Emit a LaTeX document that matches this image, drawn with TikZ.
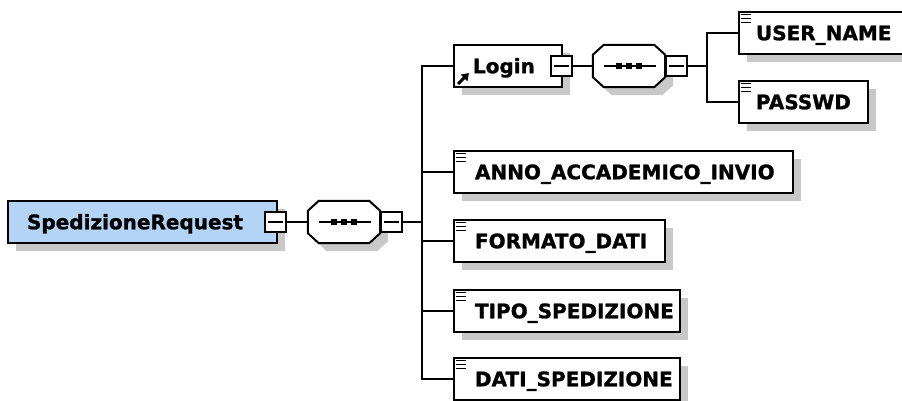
\documentclass[tikz,border=0pt]{standalone}
\usepackage{fontspec}
\setmainfont{DejaVu Sans}[BoldFeatures={FakeBold=1.2}]
\usetikzlibrary{calc,shadows,arrows.meta}
\definecolor{shc}{RGB}{200,200,200}
\definecolor{rootblue}{RGB}{180,212,245}
\newcommand\octpath[3]{($(#1.north west)+(11+#2,#3)$) -- ($(#1.north east)+(-11+#2,#3)$) -- ($(#1.north east)+(#2,10+#3)$) -- ($(#1.south east)+(#2,-10+#3)$) -- ($(#1.south east)+(-11+#2,#3)$) -- ($(#1.south west)+(11+#2,#3)$) -- ($(#1.south west)+(#2,-10+#3)$) -- ($(#1.north west)+(#2,10+#3)$) -- cycle}
\newcommand\elicon[1]{\foreach \d in {3.5,7.5,11.5} {\draw[line width=1.3pt] ($(#1.north west)+(3,\d)$) -- ++(10,0);}}
\newcommand\seqsym[1]{%
  \fill[shc] \octpath{#1}{8}{8};
  \filldraw[fill=white, draw=black, line width=2pt] \octpath{#1}{0}{0};
  \draw[line width=2pt] ($(#1.west)+(11,0)$) -- ($(#1.east)+(-9,0)$);
  \foreach \dx in {-10,0,10} {\fill ($(#1.center)+(\dx-3,-3)$) rectangle ++(6,6);}}
\newcommand\minusbox[3]{%
  \node[minus] (#1) at (#2,#3) {};
  \draw[line width=2pt] ($(#1.west)+(4,0)$) -- ($(#1.east)+(-4,0)$);}
\begin{document}
\begin{tikzpicture}[x=1pt,y=-1pt,
  box/.style={draw=black, line width=2pt, fill=white, minimum height=42pt, inner sep=0pt, anchor=west,
    font=\fontsize{20}{24}\selectfont\bfseries, text height=14.5pt, text depth=0pt,
    drop shadow={shadow xshift=8pt, shadow yshift=-8pt, opacity=1, fill=shc}},
  minus/.style={draw=black, line width=2pt, fill=white, minimum width=21pt, minimum height=20pt, inner sep=0pt},
  seqn/.style={minimum width=72pt, minimum height=42pt, inner sep=0pt},
  conn/.style={line width=2pt, draw=black}]
\useasboundingbox (0,0) rectangle (902,401);
\clip (0,0) rectangle (902,401);
\fill[white] (0,0) rectangle (902,401);

% element boxes
\node[box, fill=rootblue] (root) at (7,222) {\makebox[269pt][l]{\hspace{19pt}SpedizioneRequest}};
\node[box] (login) at (453,66) {\makebox[108pt][l]{\hspace{19pt}Login}};
\node[box] (user) at (738,33) {\makebox[175pt][l]{\hspace{17pt}USER\_NAME}};
\node[box] (pass) at (738,102) {\makebox[129pt][l]{\hspace{17pt}PASSWD}};
\node[box] (anno) at (453,172) {\makebox[339pt][l]{\hspace{21pt}ANNO\_ACCADEMICO\_INVIO}};
\node[box] (formato) at (453,241) {\makebox[211pt][l]{\hspace{21pt}FORMATO\_DATI}};
\node[box] (tipo) at (453,311) {\makebox[226pt][l]{\hspace{21pt}TIPO\_SPEDIZIONE}};
\node[box] (dati) at (453,379) {\makebox[226pt][l]{\hspace{21pt}DATI\_SPEDIZIONE}};

% icons
\elicon{user}
\elicon{pass}
\elicon{anno}
\elicon{formato}
\elicon{tipo}
\elicon{dati}
\draw[line width=3pt, -{Triangle[length=7pt,width=9pt]}] ($(login.south west)+(5,-4)$) -- ++(11,-11);

% sequence compositors
\node[seqn] (s1) at (344,222) {};
\node[seqn] (s2) at (629,66) {};
\seqsym{s1}
\seqsym{s2}

% collapse boxes
\minusbox{rm}{275}{222}
\minusbox{s1m}{391}{222}
\minusbox{lm}{561}{66}
\minusbox{s2m}{676}{66}

% junctions
\coordinate (j1) at (422,222);
\coordinate (j2) at (707,66);

% connectors
\draw[conn] (rm.east) -- (s1.west);
\draw[conn] (s1m.east) -- (j1);
\draw[conn] (j1) |- (login.west);
\draw[conn] (j1) |- (anno.west);
\draw[conn] (j1) |- (formato.west);
\draw[conn] (j1) |- (tipo.west);
\draw[conn] (j1) |- (dati.west);
\draw[conn] (lm.east) -- (s2.west);
\draw[conn] (s2m.east) -- (j2);
\draw[conn] (j2) |- (user.west);
\draw[conn] (j2) |- (pass.west);
\end{tikzpicture}
\end{document}
